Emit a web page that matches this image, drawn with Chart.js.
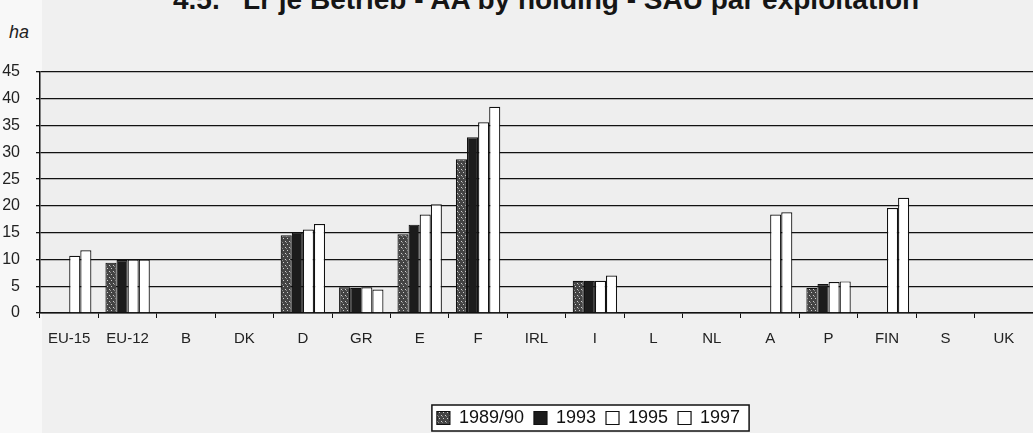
<!DOCTYPE html>
<html>
<head>
<meta charset="utf-8">
<script src="https://cdn.jsdelivr.net/npm/chart.js@4.4.1/dist/chart.umd.min.js"></script>
<style>
  html, body { margin: 0; padding: 0; background: #f0f0f0; }
  #wrap { position: relative; width: 1033px; height: 433px; overflow: hidden; }
  #strip { position: absolute; left: 0; top: 0; width: 42px; height: 433px; background: #f8f8f8; }
  #title { position: absolute; left: 173px; top: -16px; white-space: nowrap; font: bold 28px "Liberation Sans", Arial, sans-serif; color: #151515; }
  #unit { position: absolute; left: 9px; top: 22px; font: italic 18px "Liberation Sans", Arial, sans-serif; color: #222; }
  #c { position: absolute; left: 0; top: 0; }
</style>
</head>
<body>
<div id="wrap">
  <div id="strip"></div>
  <div id="title">4.5.&nbsp;&nbsp; Lr je Betrieb - AA by holding - SAU par exploitation</div>
  <div id="unit">ha</div>
  <canvas id="c" width="1033" height="433"></canvas>
</div>
<script>
// ========== Data ==========
const countries = ['EU-15', 'EU-12', 'B', 'DK', 'D', 'GR', 'E', 'F', 'IRL', 'I', 'L', 'NL', 'A', 'P', 'FIN', 'S', 'UK'];
const years = ['1989/90', '1993', '1995', '1997'];
const ha1989 = [null, 9.4, null, null, 14.5, 4.8, 14.7, 28.7, null, 6.0, null, null, null, 4.7, null, null, null];
const ha1993 = [null, 9.9, null, null, 15.0, 4.7, 16.5, 32.8, null, 6.0, null, null, null, 5.4, null, null, null];
const ha1995 = [10.7, 10.0, null, null, 15.6, 4.8, 18.4, 35.6, null, 6.0, null, null, 18.4, 5.8, 19.6, null, null];
const ha1997 = [11.7, 10.0, null, null, 16.6, 4.4, 20.3, 38.5, null, 7.0, null, null, 18.8, 5.9, 21.5, null, null];
const yTicks = [0, 5, 10, 15, 20, 25, 30, 35, 40, 45];

// ========== Utils ==========
function speckle() {
  const c = document.createElement('canvas');
  c.width = 4; c.height = 6;
  const g = c.getContext('2d');
  g.fillStyle = '#444';
  g.fillRect(0, 0, 4, 6);
  g.fillStyle = '#cfcfcf';
  g.fillRect(1, 1, 1, 1);
  g.fillRect(3, 4, 1, 1);
  g.fillStyle = '#8a8a8a';
  g.fillRect(2, 2, 1, 1);
  return g.createPattern(c, 'repeat');
}

const plotBg = {
  id: 'plotBg',
  beforeDraw(chart) {
    const { ctx, chartArea: a } = chart;
    ctx.save();
    ctx.fillStyle = '#eeeeee';
    ctx.fillRect(a.left, a.top, a.right - a.left, a.bottom - a.top);
    ctx.restore();
  }
};

// legend sits right of centre in the original, text centred near y=418
const legendShift = {
  id: 'legendShift',
  afterLayout(chart) {
    const lg = chart.legend;
    const dx = 72;
    lg.left += dx;
    lg.right += dx;
    const h = lg.height;
    lg.top = 418 - h / 2;
    lg.bottom = lg.top + h;
  }
};

const legendBox = {
  id: 'legendBox',
  afterDraw(chart) {
    const boxes = chart.legend.legendHitBoxes;
    if (!boxes.length) return;
    const x0 = Math.min(...boxes.map(b => b.left)) - 5;
    const x1 = Math.max(...boxes.map(b => b.left + b.width)) + 9;
    const y0 = Math.min(...boxes.map(b => b.top)) - 4;
    const y1 = Math.max(...boxes.map(b => b.top + b.height)) + 4;
    const ctx = chart.ctx;
    ctx.save();
    ctx.fillStyle = '#ffffff';
    ctx.globalCompositeOperation = 'destination-over';
    ctx.fillRect(x0, y0, x1 - x0, y1 - y0);
    ctx.globalCompositeOperation = 'source-over';
    ctx.strokeStyle = '#111';
    ctx.lineWidth = 1.5;
    ctx.strokeRect(x0, y0, x1 - x0, y1 - y0);
    ctx.restore();
  }
};

// ========== Chart ==========
const fills = [speckle(), '#1c1c1c', '#ffffff', '#ffffff'];
const series = [ha1989, ha1993, ha1995, ha1997];

new Chart(document.getElementById('c'), {
  type: 'bar',
  data: {
    labels: countries,
    datasets: years.map((y, i) => ({
      label: y,
      data: series[i],
      backgroundColor: fills[i],
      borderColor: '#111',
      borderWidth: 1.2,
      categoryPercentage: 0.76,
      barPercentage: 1.0
    }))
  },
  options: {
    responsive: false,
    animation: false,
    layout: { padding: { top: 72, right: 0, bottom: 0, left: 0 } },
    plugins: {
      tooltip: { enabled: false },
      legend: {
        position: 'bottom',
        labels: {
          color: '#111',
          font: { family: '"Liberation Sans", Arial, sans-serif', size: 18 },
          boxWidth: 13,
          boxHeight: 13,
          padding: 10,
          useBorderRadius: false
        }
      }
    },
    scales: {
      x: {
        grid: { display: true, drawOnChartArea: false, drawTicks: true, tickLength: 5, color: '#111', offset: true },
        border: { display: true, color: '#111', width: 1.5 },
        ticks: { color: '#222', padding: 12, font: { family: '"Liberation Sans", Arial, sans-serif', size: 15 }, maxRotation: 0, autoSkip: false },
        afterFit: s => { s.height = 82; }
      },
      y: {
        min: 0,
        max: 45,
        afterBuildTicks: s => { s.ticks = yTicks.map(v => ({ value: v })); },
        grid: { color: '#111', lineWidth: 1.3, drawTicks: true, tickLength: 4 },
        border: { display: true, color: '#111', width: 1.5 },
        ticks: { color: '#222', padding: 16, font: { family: '"Liberation Sans", Arial, sans-serif', size: 16 } },
        afterFit: s => { s.width = 40; }
      }
    }
  },
  plugins: [plotBg, legendShift, legendBox]
});
</script>
</body>
</html>
